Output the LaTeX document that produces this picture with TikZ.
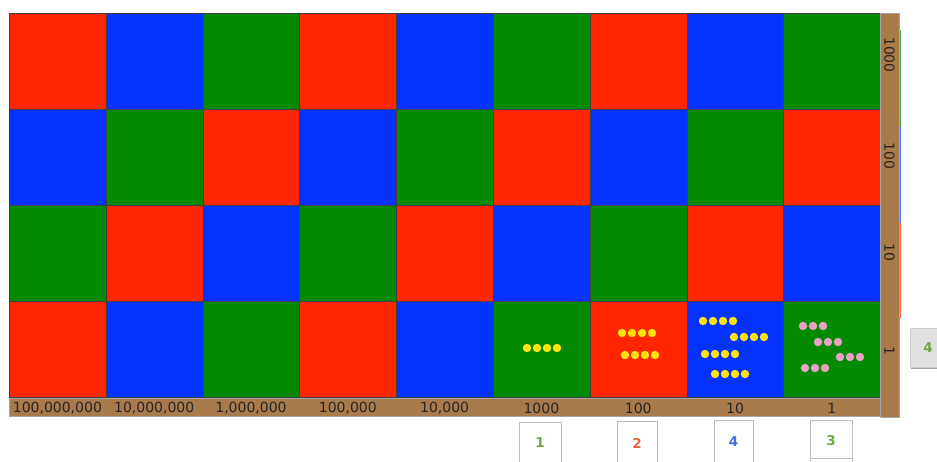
\documentclass[tikz,border=0pt]{standalone}
\usepackage{fontspec}
\setmainfont{DejaVu Sans}
\definecolor{col0}{HTML}{FF2600}
\definecolor{col1}{HTML}{0433FF}
\definecolor{col2}{HTML}{038A00}
\definecolor{wood}{HTML}{A97B4B}
\definecolor{dotY}{HTML}{FFE310}
\definecolor{dotP}{HTML}{E8A2C6}
\definecolor{tgreen}{HTML}{6EAA3C}
\definecolor{tred}{HTML}{E8643C}
\definecolor{tblue}{HTML}{3C6EE0}
\tikzset{
  cell/.style={draw=black!75, line width=0.9pt, minimum width=96.8pt, minimum height=96pt, inner sep=0pt, anchor=north west},
  barlabel/.style={font=\fontsize{14}{16}\selectfont, text=black!85, inner sep=0pt},
  digitbox/.style={draw=black!25, fill=white, line width=0.8pt},
  digit/.style={font=\bfseries\fontsize{13.5}{15}\selectfont, inner sep=0pt},
  ydot/.style={fill=dotY},
  pdot/.style={fill=dotP}
}
\begin{document}
\begin{tikzpicture}[x=1pt,y=-1pt]
\useasboundingbox (0,0) rectangle (937,461);
\fill[white] (0,0) rectangle (937,461);
% grid
\foreach \r in {0,...,3}{
  \foreach \c in {0,...,8}{
    \pgfmathtruncatemacro\k{mod(\c+\r,3)}
    \node[cell, fill=col\k] (c\r\c) at ({9+96.8*\c},{13+96*\r}) {};
  }
}
% wooden bars
\node[draw=black!35, fill=wood, line width=0.6pt, minimum width=871pt, minimum height=18pt, inner sep=0pt, anchor=north west] (bbar) at (9,398) {};
\node[draw=black!35, fill=wood, line width=0.6pt, minimum width=19pt, minimum height=404pt, inner sep=0pt, anchor=north west] (rbar) at (880,13) {};
% thin coloured edges at right side of bar
\draw[col2!70, line width=0.8pt] (900,30) -- (900,127);
\draw[col1!70, line width=0.8pt] (900,127) -- (900,223);
\draw[col0!70, line width=0.8pt] (900,223) -- (900,318);
% bottom labels
\foreach \c/\t in {0/{100,000,000},1/{10,000,000},2/{1,000,000},3/{100,000},4/{10,000},5/{1000},6/{100},7/{10},8/{1}}{
  \node[barlabel] (bl\c) at ({57.4+96.8*\c},408) {\t};
}
% right labels
\foreach \r/\t/\y in {0/1000/55,1/100/156,2/10/252,3/1/351}{
  \node[barlabel, rotate=-90] (rl\r) at (889.5,\y) {\t};
}
% dots: 1000
\foreach \x in {527,537,547,557} \fill[ydot] (\x,348) circle (4.2);
% 100
\foreach \x in {622,632,642,652} \fill[ydot] (\x,333) circle (4.2);
\foreach \x in {625,635,645,655} \fill[ydot] (\x,355) circle (4.2);
% 10
\foreach \x in {703,713,723,733} \fill[ydot] (\x,321) circle (4.2);
\foreach \x in {734,744,754,764} \fill[ydot] (\x,337) circle (4.2);
\foreach \x in {705,715,725,735} \fill[ydot] (\x,354) circle (4.2);
\foreach \x in {715,725,735,745} \fill[ydot] (\x,374) circle (4.2);
% 1
\foreach \x in {803,813,823} \fill[pdot] (\x,326) circle (4.2);
\foreach \x in {818,828,838} \fill[pdot] (\x,342) circle (4.2);
\foreach \x in {840,850,860} \fill[pdot] (\x,357) circle (4.2);
\foreach \x in {805,815,825} \fill[pdot] (\x,368) circle (4.2);
% digit boxes under the bar
\draw[digitbox] (519,462) -- (519,422) -- (561,422) -- (561,462);
\draw[digitbox] (617,462) -- (617,421) -- (657,421) -- (657,462);
\draw[digitbox] (714,462) -- (714,420) -- (753,420) -- (753,462);
\draw[digitbox] (810,462) -- (810,420) -- (852,420) -- (852,462);
\draw[black!25, line width=0.8pt] (810,458.5) -- (852,458.5);
\node[digit, text=tgreen] (d1) at (540,443) {1};
\node[digit, text=tred] (d2) at (637,443) {2};
\node[digit, text=tblue] (d3) at (733.5,442) {4};
\node[digit, text=tgreen] (d4) at (831,441) {3};
% side box
\fill[black!35] (911,330) rectangle (937,369);
\node[draw=black!20, fill=black!12, line width=0.6pt, minimum width=28pt, minimum height=39pt, inner sep=0pt, anchor=north west] (sbox) at (910,328) {};
\node[digit, text=tgreen] (d5) at (928,348) {4};
\end{tikzpicture}
\end{document}
